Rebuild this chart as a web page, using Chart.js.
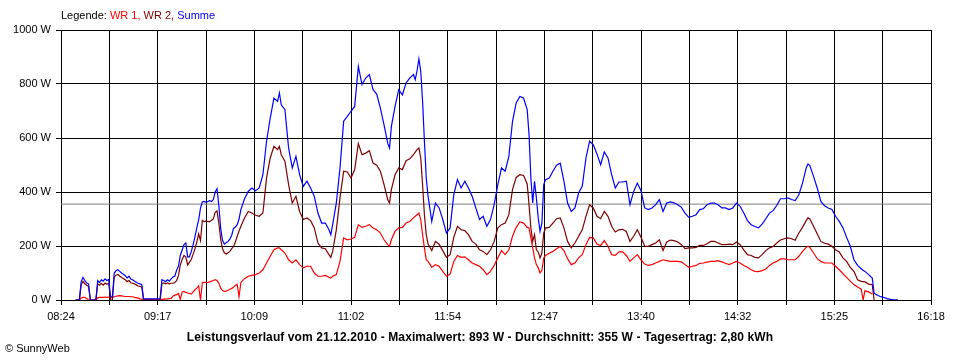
<!DOCTYPE html>
<html>
<head>
<meta charset="utf-8">
<script src="https://cdn.jsdelivr.net/npm/chart.js@4.4.0/dist/chart.umd.min.js"></script>
<style>
  body { margin: 0; background: #fff; }
  #wrap { position: relative; width: 960px; height: 360px; font-family: "Liberation Sans", Arial, sans-serif; }
  #legend { position: absolute; left: 61px; top: 9px; font-size: 11px; line-height: 13px; color: #000; }
  #title { position: absolute; left: 0; width: 960px; top: 330px; text-align: center; font-weight: bold; font-size: 12px; line-height: 14px; letter-spacing: 0.1px; }
  #copy { position: absolute; left: 5px; top: 342px; font-size: 11px; line-height: 13px; }
</style>
</head>
<body>
<div id="wrap">
  <canvas id="chart" width="960" height="360"></canvas>
  <div id="legend">Legende: <span style="color:#ff0000">WR 1,</span> <span style="color:#800000">WR 2,</span> <span style="color:#0000ff">Summe</span></div>
  <div id="title">Leistungsverlauf vom 21.12.2010 - Maximalwert: 893 W - Durchschnitt: 355 W - Tagesertrag: 2,80 kWh</div>
  <div id="copy">© SunnyWeb</div>
</div>
<script>
"use strict";

const X_START = "08:24";
const X_END = "16:18";
const TICK_LABELS = ["08:24", "09:17", "10:09", "11:02", "11:54", "12:47", "13:40", "14:32", "15:25", "16:18"];
const AVERAGE = 355;

const TIMES = [
  "08:32","08:34","08:35","08:36","08:37","08:38","08:39","08:40","08:43","08:44",
  "08:45","08:46","08:47","08:48","08:49","08:50","08:51","08:52","08:53","08:54",
  "08:55","08:56","08:57","08:58","08:59","09:00","09:01","09:02","09:03","09:04",
  "09:05","09:06","09:07","09:08","09:09","09:13","09:18","09:19","09:20","09:21",
  "09:22","09:23","09:24","09:25","09:26","09:27","09:28","09:29","09:30","09:31",
  "09:32","09:33","09:34","09:35","09:36","09:37","09:38","09:39","09:40","09:41",
  "09:42","09:43","09:44","09:45","09:46","09:47","09:48","09:49","09:50","09:51",
  "09:52","09:53","09:54","09:55","09:56","09:57","09:58","09:59","10:00","10:01",
  "10:02","10:04","10:06","10:08","10:10","10:12","10:14","10:16","10:18","10:20",
  "10:22","10:23","10:24","10:26","10:28","10:30","10:32","10:34","10:36","10:38",
  "10:40","10:42","10:44","10:46","10:48","10:50","10:51","10:52","10:54","10:56",
  "10:58","11:00","11:02","11:04","11:06","11:08","11:10","11:12","11:14","11:16",
  "11:18","11:20","11:22","11:23","11:24","11:26","11:28","11:30","11:32","11:34",
  "11:36","11:37","11:38","11:39","11:40","11:41","11:42","11:43","11:44","11:46",
  "11:48","11:50","11:52","11:54","11:56","11:58","12:00","12:02","12:04","12:06",
  "12:08","12:10","12:12","12:14","12:16","12:18","12:20","12:22","12:24","12:26",
  "12:28","12:30","12:32","12:34","12:36","12:38","12:39","12:40","12:41","12:42",
  "12:43","12:44","12:45","12:46","12:47","12:48","12:50","12:52","12:54","12:56",
  "12:58","13:00","13:02","13:04","13:06","13:08","13:10","13:12","13:14","13:16",
  "13:18","13:20","13:22","13:24","13:26","13:28","13:30","13:32","13:34","13:36",
  "13:38","13:40","13:42","13:44","13:46","13:48","13:50","13:52","13:54","13:56",
  "13:58","14:00","14:02","14:04","14:06","14:08","14:10","14:12","14:14","14:16",
  "14:18","14:20","14:22","14:24","14:26","14:28","14:30","14:32","14:34","14:36",
  "14:38","14:40","14:42","14:44","14:46","14:48","14:50","14:52","14:54","14:56",
  "14:58","15:00","15:02","15:04","15:06","15:08","15:10","15:11","15:12","15:14",
  "15:16","15:18","15:20","15:22","15:24","15:26","15:28","15:30","15:32","15:34",
  "15:36","15:38","15:40","15:41","15:42","15:44","15:46","15:47","15:48","15:50",
  "15:52","15:54","15:56","15:58","16:00"
];

// WR 1 (red)
const WR1 = [
  0,0,7,10,10,5,2,0,0,8,
  10,10,10,11,10,11,10,10,12,14,
  15,16,15,14,13,13,13,12,12,10,
  9,7,4,3,2,2,2,2,3,3,
  4,5,6,14,18,20,24,2,30,32,
  28,26,24,22,30,38,44,52,0,64,
  65,65,65,67,70,72,75,72,62,44,
  35,32,33,36,40,43,47,55,58,12,
  65,79,88,91,94,100,112,137,162,186,
  193,193,186,174,149,137,149,131,119,125,
  125,100,88,88,91,84,81,88,94,143,
  230,223,226,232,279,269,273,279,267,260,
  248,223,205,199,223,254,267,269,285,291,
  304,310,316,322,298,242,193,149,143,121,
  131,125,106,88,96,143,165,158,160,149,
  137,131,125,112,94,106,128,156,183,168,
  186,236,269,289,285,269,267,230,193,156,
  131,119,100,109,156,165,173,180,190,198,
  183,153,131,137,156,168,205,232,230,207,
  202,220,199,168,165,178,178,165,143,156,
  168,149,133,128,131,137,143,149,146,143,
  143,143,141,131,121,125,128,136,137,140,
  143,143,146,141,136,131,137,143,137,128,
  121,112,106,105,109,115,128,137,143,152,
  152,149,149,149,162,180,195,199,195,174,
  153,143,137,137,137,125,112,98,84,70,
  57,48,40,0,34,30,22,null,null,null,
  null,null,null,null,null
];

// WR 2 (dark red)
const WR2 = [
  0,0,57,69,60,55,50,0,0,60,
  55,62,55,63,58,62,0,0,85,92,
  95,88,83,80,75,68,72,64,62,60,
  56,52,50,48,0,0,0,60,63,60,
  63,60,62,62,65,72,90,130,150,165,
  160,130,140,150,170,190,215,245,220,295,
  290,292,290,290,295,300,325,330,285,225,
  190,175,170,175,180,190,198,215,236,255,
  273,304,328,322,314,310,322,452,526,569,
  557,569,538,514,427,359,384,328,298,304,
  294,267,211,193,190,168,158,180,260,378,
  477,474,452,483,579,538,544,553,507,499,
  477,427,372,359,409,464,489,483,516,523,
  538,548,557,563,526,427,316,242,207,183,
  217,207,183,158,168,232,273,260,257,242,
  217,207,186,180,168,186,217,267,279,285,
  316,409,454,464,461,430,353,267,217,242,
  186,178,156,174,248,267,269,285,301,304,
  267,217,193,211,236,260,310,353,341,310,
  301,328,310,273,252,260,262,254,217,236,
  260,232,199,199,205,211,223,183,215,222,
  220,215,205,190,193,193,195,202,202,208,
  217,217,211,205,205,207,205,215,205,186,
  168,165,158,156,168,183,193,198,211,222,
  227,230,227,221,248,269,294,304,300,273,
  245,217,210,207,199,186,178,156,143,121,
  106,75,69,68,67,59,57,0,null,null,
  null,null,null,null,null
];

// Summe (blue)
const SUMME = [
  0,0,69,84,72,63,60,0,0,72,
  65,75,70,78,72,76,12,12,100,108,
  112,106,100,95,90,82,88,78,75,70,
  66,62,60,58,4,4,4,75,72,68,
  75,70,78,85,88,110,125,165,185,205,
  211,160,160,180,205,235,268,297,340,363,
  365,362,365,368,365,372,400,412,350,265,
  220,207,212,217,225,240,265,270,279,300,
  335,375,402,415,405,415,464,588,674,748,
  736,767,723,705,563,489,532,464,421,440,
  415,384,322,285,285,260,242,279,359,489,
  662,680,699,717,865,798,822,835,779,763,
  711,649,581,563,643,717,779,760,804,822,
  835,816,850,893,847,736,588,452,384,291,
  359,341,298,248,267,390,446,415,440,415,
  384,341,298,310,273,298,353,427,489,477,
  532,662,730,754,748,705,612,452,359,440,
  378,304,254,285,427,446,452,477,499,507,
  440,359,328,341,396,421,526,588,575,541,
  501,548,526,464,415,437,437,440,353,402,
  433,405,341,335,341,353,372,328,359,363,
  360,353,343,322,306,310,316,335,338,353,
  359,359,353,341,341,335,341,359,347,322,
  294,279,272,267,281,301,322,331,351,375,
  375,378,372,368,390,433,489,504,498,458,
  415,365,349,341,335,310,291,268,232,200,
  149,128,116,110,106,94,81,26,20,14,
  10,5,2,1,1
];

const FONT = { family: "'Liberation Sans', Arial, sans-serif", size: 11 };

const toMin = (t) => {
  const [h, m] = t.split(":").map(Number);
  return h * 60 + m;
};

const xMin = toMin(X_START);
const xMax = toMin(X_END);
// one grid line every half label step
const TICKS = [];
for (let i = 0; i <= (TICK_LABELS.length - 1) * 2; i++) {
  TICKS.push(xMin + (i * (xMax - xMin)) / ((TICK_LABELS.length - 1) * 2));
}

const series = (vals) => TIMES.map((t, i) => ({ x: toMin(t), y: vals[i] }));

const line = (label, vals, color, order) => ({
  label,
  data: series(vals),
  borderColor: color,
  backgroundColor: color,
  borderWidth: 1.2,
  pointRadius: 0,
  tension: 0,
  fill: false,
  spanGaps: false,
  order,
});

new Chart(document.getElementById("chart"), {
  type: "line",
  data: {
    datasets: [
      line("WR 1", WR1, "#ff0000", 3),
      line("WR 2", WR2, "#800000", 2),
      line("Summe", SUMME, "#0000ff", 1),
      {
        label: "Durchschnitt",
        data: [{ x: xMin, y: AVERAGE }, { x: xMax, y: AVERAGE }],
        borderColor: "#808080",
        borderWidth: 1,
        pointRadius: 0,
        order: 10,
      },
    ],
  },
  options: {
    responsive: false,
    animation: false,
    devicePixelRatio: 1,
    layout: { padding: { left: 0, right: 29, top: 30, bottom: 0 } },
    plugins: { legend: { display: false }, tooltip: { enabled: false } },
    scales: {
      x: {
        type: "linear",
        min: xMin,
        max: xMax,
        afterBuildTicks: (s) => { s.ticks = TICKS.map((v) => ({ value: v })); },
        afterFit: (s) => { s.height = 60; },
        ticks: {
          autoSkip: false,
          maxRotation: 0,
          color: "#000",
          font: FONT,
          padding: 5,
          callback: (v, i) => (i % 2 === 0 ? TICK_LABELS[i / 2] : ""),
        },
        grid: { color: "#000", lineWidth: 1, tickLength: 5, tickColor: "#000" },
        border: { color: "#000" },
      },
      y: {
        min: 0,
        max: 1000,
        afterFit: (s) => { s.width = 61; },
        ticks: {
          stepSize: 200,
          color: "#000",
          font: FONT,
          padding: 5,
          callback: (v) => v + " W",
        },
        grid: { color: "#000", lineWidth: 1, tickLength: 5, tickColor: "#000" },
        border: { color: "#000" },
      },
    },
  },
});
</script>
</body>
</html>
